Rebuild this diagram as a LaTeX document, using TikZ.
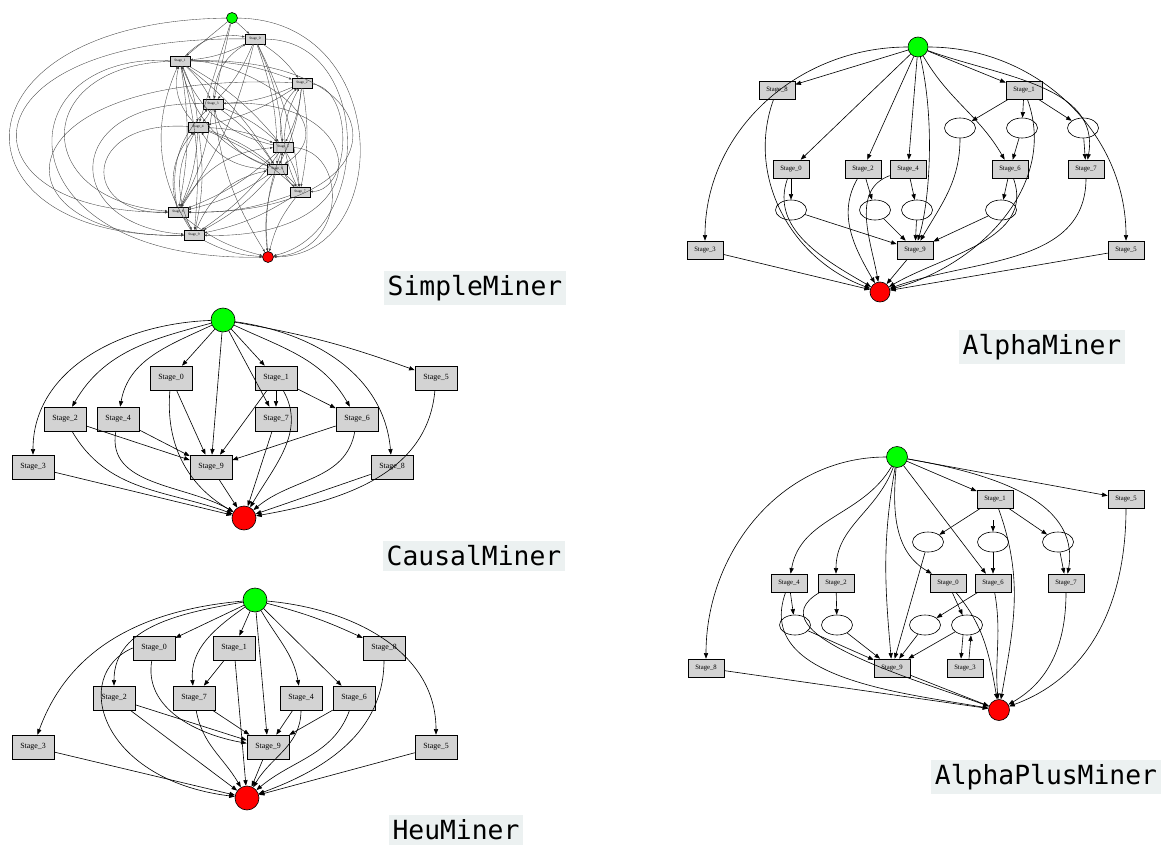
\documentclass[tikz,border=0pt]{standalone}
\usepackage{fontspec}
\setmainfont{Liberation Serif}
\newfontfamily\namefont{DejaVu Sans Mono}
\usetikzlibrary{arrows.meta,shapes.geometric}

\definecolor{stagegray}{RGB}{211,211,211}
\definecolor{namebg}{RGB}{236,241,241}

\begin{document}
\begin{tikzpicture}[
  x=0.2mm, y=-0.2mm,
  line width=0.35pt,
  >={Triangle[length=3.2pt,width=2.4pt]},
  stagebox/.style={draw, fill=stagegray, minimum width=8.4mm, minimum height=4.8mm, inner sep=0pt, font=\fontsize{4.5}{5}\selectfont},
  stagesmall/.style={stagebox, minimum width=7.2mm, minimum height=3.6mm, font=\fontsize{3.8}{4}\selectfont},
  stagetiny/.style={draw, fill=stagegray, minimum width=4mm, minimum height=2mm, inner sep=0pt, line width=0.25pt, font=\fontsize{2}{2}\selectfont},
  source/.style={circle, draw, fill=green, minimum size=4.8mm, inner sep=0pt},
  sink/.style={circle, draw, fill=red, minimum size=4.8mm, inner sep=0pt},
  cond/.style={ellipse, draw, fill=white, minimum width=6.2mm, minimum height=4mm, inner sep=0pt},
  tiny/.style={-{Triangle[length=1.5pt,width=1.1pt]}, line width=0.2pt, black!75},
  minername/.style={fill=namebg, inner xsep=2pt, inner ysep=2.5pt, font=\namefont\fontsize{15}{17}\selectfont},
]
  \useasboundingbox (0,0) rectangle (1166,845);
  \fill[white] (0,0) rectangle (1166,845);

  % SimpleMiner
  \node[source, minimum size=2.2mm] (ss) at (232,18) {};
  \node[stagetiny] (sA) at (255,39) {Stage\_0};
  \node[stagetiny] (sB) at (180,61) {Stage\_1};
  \node[stagetiny] (sC) at (302,83) {Stage\_2};
  \node[stagetiny] (sD) at (213,104) {Stage\_3};
  \node[stagetiny] (sE) at (198,127) {Stage\_4};
  \node[stagetiny] (sF) at (283,147) {Stage\_5};
  \node[stagetiny] (sG) at (277,169) {Stage\_6};
  \node[stagetiny] (sH) at (300,192) {Stage\_7};
  \node[stagetiny] (sI) at (178,212) {Stage\_8};
  \node[stagetiny] (sJ) at (194,235) {Stage\_9};
  \node[sink, minimum size=2.2mm] (se) at (268,257) {};

  \foreach \v in {sA,sB,sD,sE}
    \draw[tiny] (ss) -- (\v);
  \foreach \u/\v in {sA/sB,sA/sC,sA/sD,sA/sF,sA/sG,sA/sH,sA/sI,sB/sC,sB/sD,sB/sE,sB/sF,sB/sG,sB/sI,sB/sJ,sC/sD,sC/sE,sC/sF,sC/sG,sC/sH,sD/sE,sD/sF,sD/sG,sD/sI,sE/sF,sE/sG,sE/sH,sE/sI,sE/sJ,sF/sG,sF/sH,sF/sI,sF/sJ,sG/sH,sG/sI,sG/sJ,sH/sI,sH/sJ,sI/sJ}
    \draw[tiny] (\u) to[bend left=10] (\v);
  \foreach \u/\v in {sB/sA,sD/sA,sF/sC,sG/sB,sI/sD,sJ/sE,sH/sF,sG/sE,sJ/sG,sI/sF,sE/sB,sH/sC,sJ/sB,sI/sE,sG/sD,sF/sB}
    \draw[tiny] (\u) to[bend left=28] (\v);
  \foreach \v in {sD,sF,sG,sH,sI,sJ}
    \draw[tiny] (\v) to[bend right=12] (se);
  % wide loops on the left
  \draw[tiny] (ss) .. controls (-55,22) and (-55,240) .. (sJ);
  \draw[tiny] (sA) .. controls (-45,36) and (-45,214) .. (sI);
  \draw[tiny] (sB) .. controls (30,66) and (30,200) .. (sI);
  \draw[tiny] (sB) .. controls (0,52) and (0,262) .. (se);
  \draw[tiny] (sD) .. controls (60,100) and (60,225) .. (sJ);
  \draw[tiny] (sC) .. controls (-10,70) and (-10,240) .. (sJ);
  \draw[tiny] (sE) .. controls (80,120) and (80,215) .. (sI);
  % wide loops on the right
  \draw[tiny] (ss) .. controls (394,20) and (394,256) .. (se);
  \draw[tiny] (sA) .. controls (373,40) and (373,232) .. (se);
  \draw[tiny] (sC) .. controls (353,88) and (353,190) .. (sH);
  \draw[tiny] (sF) .. controls (348,150) and (348,252) .. (se);
  \draw[tiny] (sB) .. controls (407,55) and (407,215) .. (sI);
  \draw[tiny] (sD) .. controls (380,95) and (380,240) .. (sJ);
  \draw[tiny] (sB) .. controls (240,60) and (350,120) .. (sG);

  % CausalMiner
  \node[source] (cs) at (223,320) {};
  \node[stagebox] (c0) at (171,378) {Stage\_0};
  \node[stagebox] (c1) at (276,378) {Stage\_1};
  \node[stagebox] (c5) at (436,378) {Stage\_5};
  \node[stagebox] (c2) at (65,419) {Stage\_2};
  \node[stagebox] (c4) at (118,419) {Stage\_4};
  \node[stagebox] (c7) at (276,419) {Stage\_7};
  \node[stagebox] (c6) at (357,419) {Stage\_6};
  \node[stagebox] (c3) at (33,467) {Stage\_3};
  \node[stagebox] (c9) at (211,467) {Stage\_9};
  \node[stagebox] (c8) at (392,467) {Stage\_8};
  \node[sink] (ce) at (244,518) {};

  \draw[->] (cs) -- (c0); \draw[->] (cs) -- (c1); \draw[->] (cs) -- (c9); \draw[->] (cs) -- (c7);
  \draw[->] (cs) to[bend left=5] (c5);
  \draw[->] (cs) to[out=195,in=60] (c2);
  \draw[->] (cs) to[out=205,in=80] (c4);
  \draw[->] (cs) to[out=182,in=90] (c3);
  \draw[->] (cs) to[out=-25,in=120] (c6);
  \draw[->] (cs) to[out=-8,in=95] (c8);
  \draw[->] (c0) -- (c9); \draw[->] (c0) to[out=-95,in=150] (ce);
  \draw[->] (c1) -- (c9); \draw[->] (c1) -- (c7); \draw[->] (c1) -- (c6);
  \draw[->] (c1) to[out=-60,in=60] (ce);
  \draw[->] (c2) -- (c9); \draw[->] (c2) to[out=-60,in=160] (ce);
  \draw[->] (c4) -- (c9); \draw[->] (c4) to[out=-100,in=150] (ce);
  \draw[->] (c7) -- (ce);
  \draw[->] (c6) -- (c9); \draw[->] (c6) to[out=-100,in=40] (ce);
  \draw[->] (c3) -- (ce); \draw[->] (c9) -- (ce); \draw[->] (c8) -- (ce);
  \draw[->] (c5) to[out=-95,in=10] (ce);

  % HeuMiner
  \node[source] (hs) at (255,600) {};
  \node[stagebox] (h0) at (154,648) {Stage\_0};
  \node[stagebox] (h1) at (234,648) {Stage\_1};
  \node[stagebox] (h8) at (384,648) {Stage\_8};
  \node[stagebox] (h2) at (114,698) {Stage\_2};
  \node[stagebox] (h7) at (194,698) {Stage\_7};
  \node[stagebox] (h4) at (301,698) {Stage\_4};
  \node[stagebox] (h6) at (354,698) {Stage\_6};
  \node[stagebox] (h3) at (33,747) {Stage\_3};
  \node[stagebox] (h9) at (268,747) {Stage\_9};
  \node[stagebox] (h5) at (436,747) {Stage\_5};
  \node[sink] (he) at (247,798) {};

  \draw[->] (hs) -- (h0); \draw[->] (hs) -- (h1); \draw[->] (hs) -- (h6); \draw[->] (hs) -- (h9);
  \draw[->] (hs) to[bend left=5] (h8);
  \draw[->] (hs) to[out=190,in=90] (h2);
  \draw[->] (hs) to[out=215,in=95] (h7);
  \draw[->] (hs) to[out=-60,in=100] (h4);
  \draw[->] (hs) to[out=185,in=70] (h3);
  \draw[->] (hs) to[out=-5,in=90] (h5);
  \draw[->] (h0) to[out=-100,in=170] (h9);
  \draw[->] (h0.west) .. controls (70,675) and (100,780) .. (he);
  \draw[->] (h1) -- (h7); \draw[->] (h1) -- (he);
  \draw[->] (h2) -- (h9); \draw[->] (h2) -- (he);
  \draw[->] (h7) -- (h9); \draw[->] (h7) to[out=-80,in=120] (he);
  \draw[->] (h4) -- (h9); \draw[->] (h4) to[out=-90,in=60] (he);
  \draw[->] (h6) -- (h9); \draw[->] (h6) to[out=-110,in=40] (he);
  \draw[->] (h8) to[out=-90,in=20] (he);
  \draw[->] (h3) -- (he); \draw[->] (h9) -- (he); \draw[->] (h5) -- (he);

  % AlphaMiner
  \node[source, minimum size=4mm] (as) at (918,47) {};
  \node[stagesmall] (a8) at (777,90) {Stage\_8};
  \node[stagesmall] (a1) at (1024,90) {Stage\_1};
  \node[cond] (ap1) at (960,128) {};
  \node[cond] (ap2) at (1022,128) {};
  \node[cond] (ap3) at (1083,128) {};
  \node[stagesmall] (a0) at (791,169) {Stage\_0};
  \node[stagesmall] (a2) at (863,169) {Stage\_2};
  \node[stagesmall] (a4) at (908,169) {Stage\_4};
  \node[stagesmall] (a6) at (1010,169) {Stage\_6};
  \node[stagesmall] (a7) at (1086,169) {Stage\_7};
  \node[cond] (ap4) at (791,210) {};
  \node[cond] (ap5) at (875,210) {};
  \node[cond] (ap6) at (917,210) {};
  \node[cond] (ap7) at (1001,210) {};
  \node[stagesmall] (a3) at (705,250) {Stage\_3};
  \node[stagesmall] (a9) at (915,250) {Stage\_9};
  \node[stagesmall] (a5) at (1126,250) {Stage\_5};
  \node[sink, minimum size=4mm] (ae) at (880,292) {};

  \draw[->] (as) -- (a8); \draw[->] (as) -- (a1); \draw[->] (as) -- (a0);
  \draw[->] (as) -- (a2); \draw[->] (as) -- (a4);
  \draw[->] (as) to[out=180,in=90] (a3);
  \draw[->] (as) to[out=0,in=90] (a5);
  \draw[->] (as) .. controls (935,120) and (930,200) .. (a9);
  \draw[->] (as) to[out=-60,in=120] (a6);
  \draw[->] (as) to[out=-20,in=80] (a7);
  \draw[->] (a1) -- (ap1); \draw[->] (a1) -- (ap2); \draw[->] (a1) -- (ap3);
  \draw[->] (a1) to[out=-70,in=15] (ae);
  \draw[->] (ap1) to[out=-90,in=60] (a9); \draw[->] (ap2) -- (a6); \draw[->] (ap3) -- (a7);
  \draw[->] (a8) to[out=-110,in=160] (ae);
  \draw[->] (a0) -- (ap4); \draw[->] (a0) to[out=-110,in=150] (ae); \draw[->] (ap4) -- (a9);
  \draw[->] (a2) -- (ap5); \draw[->] (a2) to[out=-120,in=120] (ae); \draw[->] (ap5) -- (a9);
  \draw[->] (a4) -- (ap6); \draw[->] (a4) to[out=200,in=100] (ae); \draw[->] (ap6) -- (a9);
  \draw[->] (a6) -- (ap7); \draw[->] (a6) to[out=-70,in=30] (ae); \draw[->] (ap7) -- (a9);
  \draw[->] (a7) to[out=-90,in=20] (ae);
  \draw[->] (a3) -- (ae); \draw[->] (a9) -- (ae); \draw[->] (a5) -- (ae);

  % AlphaPlusMiner
  \node[source, minimum size=4.2mm] (ps) at (897,457) {};
  \node[stagesmall] (p1) at (995,499) {Stage\_1};
  \node[stagesmall] (p5) at (1126,499) {Stage\_5};
  \node[cond] (pp1) at (928,542) {};
  \node[cond] (pp2) at (993,542) {};
  \node[cond] (pp3) at (1058,542) {};
  \coordinate (pstub) at (993,520);
  \node[stagesmall] (p4) at (789,583) {Stage\_4};
  \node[stagesmall] (p2) at (836,583) {Stage\_2};
  \node[stagesmall] (p0) at (948,583) {Stage\_0};
  \node[stagesmall] (p6) at (993,583) {Stage\_6};
  \node[stagesmall] (p7) at (1066,583) {Stage\_7};
  \node[cond] (pp4) at (795,625) {};
  \node[cond] (pp5) at (837,625) {};
  \node[cond] (pp6) at (925,625) {};
  \node[cond] (pp7) at (967,625) {};
  \node[stagesmall] (p8) at (706,668) {Stage\_8};
  \node[stagesmall] (p9) at (892,668) {Stage\_9};
  \node[stagesmall] (p3) at (965,668) {Stage\_3};
  \node[sink, minimum size=4.2mm] (pe) at (999,710) {};

  \draw[->] (ps) -- (p6); \draw[->] (ps) -- (p1); \draw[->] (ps) -- (p5);
  \draw[->] (ps) to[out=180,in=90] (p8);
  \draw[->] (ps) to[out=-120,in=80] (p4);
  \draw[->] (ps) to[out=-110,in=90] (p2);
  \draw[->] (ps) to[out=-100,in=95] (p9);
  \draw[->] (ps) to[out=-95,in=150] (p0);
  \draw[->] (ps) to[out=-10,in=80] (p7);
  \draw[->] (p1) -- (pp1); \draw[->] (p1) -- (pp3); \draw[->] (pstub) -- (pp2);
  \draw[->] (p1) to[out=-70,in=80] (pe);
  \draw[->] (pp1) -- (p9); \draw[->] (pp2) -- (p6); \draw[->] (pp3) -- (p7);
  \draw[->] (p4) -- (pp4); \draw[->] (p4) to[out=-110,in=170] (pe);
  \draw[->] (p2) -- (pp5); \draw[->] (p2) to[out=210,in=160] (pe);
  \draw[->] (pp4) -- (p9); \draw[->] (pp5) -- (p9);
  \draw[->] (p0) -- (pp7); \draw[->] (p0) to[out=-50,in=100] (pe);
  \draw[->] (p6) -- (pp6); \draw[->] (p6) to[out=-80,in=95] (pe);
  \draw[->] (pp6) -- (p9); \draw[->] (pp7) -- (p9);
  \draw[->] ([xshift=-0.8mm]pp7.south) -- ([xshift=-0.8mm]p3.north);
  \draw[->] ([xshift=0.8mm]p3.north) -- ([xshift=0.8mm]pp7.south);
  \draw[->] (p7) to[out=-90,in=30] (pe); \draw[->] (p5) to[out=-90,in=20] (pe);
  \draw[->] (p8) -- (pe); \draw[->] (p9) -- (pe);

  % miner names
  \node[minername] (nsimple) at (475,288) {SimpleMiner};
  \node[minername] (nalpha) at (1042,347) {AlphaMiner};
  \node[minername] (ncausal) at (474,556) {CausalMiner};
  \node[minername] (nplus) at (1046,777) {AlphaPlusMiner};
  \node[minername] (nheu) at (456,830) {HeuMiner};
\end{tikzpicture}
\end{document}
